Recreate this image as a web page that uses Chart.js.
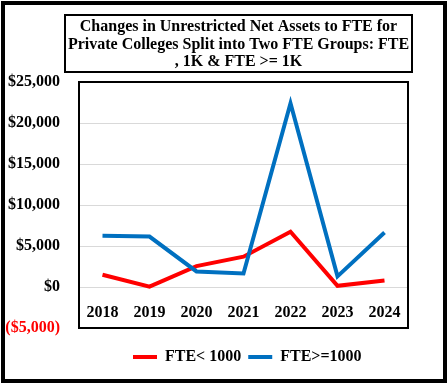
<!DOCTYPE html>
<html>
<head>
<meta charset="utf-8">
<script src="https://cdn.jsdelivr.net/npm/chart.js@4/dist/chart.umd.min.js"></script>
<style>
  html, body { margin: 0; padding: 0; background: #fff; }
  #wrap { width: 447px; height: 383px; }
</style>
</head>
<body>
<div id="wrap"><canvas id="c" width="447" height="383"></canvas></div>
<script>
const categories = ['2018', '2019', '2020', '2021', '2022', '2023', '2024'];
const fteUnder1000 = [1500, 50, 2550, 3700, 6750, 150, 800];
const fteOver1000 = [6250, 6150, 1900, 1650, 22400, 1300, 6650];
const seriesNames = ['FTE< 1000', 'FTE>=1000'];
const titleLines = ['Changes in Unrestricted Net Assets to FTE for', 'Private Colleges Split into Two FTE Groups: FTE', ', 1K & FTE >= 1K'];
const yTicks = [-5000, 0, 5000, 10000, 15000, 20000, 25000];

const FONT = 'Liberation Serif, "Times New Roman", serif';

const decorPlugin = {
  id: 'decor',
  afterLayout(chart) {
    const t = chart.titleBlock;
    if (t) {
      const dx = 238.5 - (t.left + t.right) / 2;
      t.left += dx; t.right += dx;
    }
    const lg = chart.legend;
    if (lg && lg.lineWidths) {
      const pad = lg.options.labels.padding;
      const x0 = (lg.left + pad + lg.right - lg.lineWidths[0]) / 2;
      const dx = 133 - x0;
      lg.left += dx; lg.right += dx;
      const dy = 342 - lg.top;
      lg.top += dy; lg.bottom += dy;
    }
  },
  afterDraw(chart) {
    const ctx = chart.ctx;
    const a = chart.chartArea;
    ctx.save();
    ctx.strokeStyle = '#000';
    ctx.lineWidth = 2;
    ctx.strokeRect(a.left, a.top, a.right - a.left, a.bottom - a.top);
    ctx.strokeRect(65, 15, 347, 57);
    ctx.lineWidth = 4;
    ctx.strokeRect(3, 3, 442, 378);
    ctx.restore();
  }
};

new Chart(document.getElementById('c'), {
  type: 'line',
  data: {
    labels: categories,
    datasets: [
      { label: seriesNames[0], data: fteUnder1000, borderColor: '#ff0000', backgroundColor: '#ff0000', borderWidth: 4, pointRadius: 0, tension: 0, order: 1 },
      { label: seriesNames[1], data: fteOver1000, borderColor: '#0070c0', backgroundColor: '#0070c0', borderWidth: 4, pointRadius: 0, tension: 0, order: 0 }
    ]
  },
  options: {
    responsive: false,
    animation: false,
    devicePixelRatio: 1,
    layout: { padding: { left: 0, right: 39, top: 0, bottom: 22 } },
    scales: {
      x: {
        type: 'category',
        position: { y: 0 },
        offset: true,
        grid: { display: false },
        border: { display: false },
        ticks: { color: '#000', font: { family: FONT, size: 16, weight: 'bold' }, padding: 8, maxRotation: 0 }
      },
      y: {
        min: -5000, max: 25000,
        afterBuildTicks(s) { s.ticks = yTicks.map(v => ({ value: v })); },
        afterFit(s) { s.width = 79; s.paddingTop = 0; s.paddingBottom = 0; },
        grid: {
          drawTicks: false,
          color: c => (c.tick && c.tick.value >= 0 && c.tick.value <= 20000) ? '#d9d9d9' : 'rgba(0,0,0,0)',
          lineWidth: 1
        },
        border: { display: false },
        ticks: {
          padding: 19,
          color: c => (c.tick && c.tick.value < 0) ? '#ff0000' : '#000',
          font: { family: FONT, size: 16, weight: 'bold' },
          callback: v => v < 0 ? '($' + Math.abs(v).toLocaleString('en-US') + ')' : '$' + v.toLocaleString('en-US')
        }
      }
    },
    plugins: {
      tooltip: { enabled: false },
      title: {
        display: true,
        text: titleLines,
        color: '#000',
        font: { family: FONT, size: 16, weight: 'bold', lineHeight: 1.1 },
        padding: { top: 18, bottom: 11.2 }
      },
      legend: {
        display: true,
        position: 'bottom',
        labels: {
          color: '#000',
          font: { family: FONT, size: 16, weight: 'bold' },
          boxWidth: 24,
          boxHeight: 4,
          padding: 7,
          sort: (a, b) => a.datasetIndex - b.datasetIndex,
          generateLabels(chart) {
            const items = Chart.defaults.plugins.legend.labels.generateLabels(chart);
            items.forEach(it => { it.lineWidth = 0; it.fillStyle = it.strokeStyle; });
            return items;
          }
        }
      }
    }
  },
  plugins: [decorPlugin]
});
</script>
</body>
</html>
